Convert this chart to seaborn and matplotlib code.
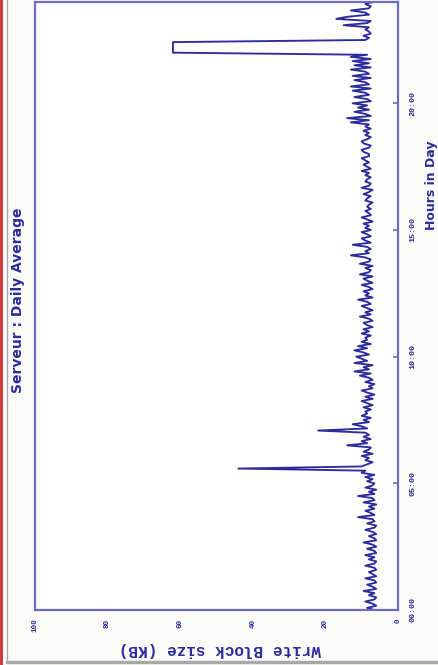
import matplotlib
matplotlib.use('Agg')
import matplotlib.pyplot as plt
import seaborn as sns
import pandas as pd
from matplotlib.lines import Line2D

# write block size (KB), one reading every 5 minutes from 00:00 to 24:00
kb = [
    6.5, 8.5, 6, 7, 9, 6.5, 6, 8, 6.5, 9.5, 6, 7,              # 00h
    8.5, 6, 6.5, 9, 6, 7, 8, 6, 6.5, 9, 6.5, 6,                # 01h
    8, 6.5, 9, 6, 6.5, 8.5, 6, 7, 9.5, 6, 6.5, 8,              # 02h
    6, 7, 9, 6.5, 6, 8.5, 6.5, 7, 11, 6.5, 7.5, 9,             # 03h
    6.5, 8, 6, 9.5, 6.5, 7, 11, 6.5, 8, 6, 9, 7,               # 04h
    6.5, 8.5, 7, 9, 6.5, 10, 9, 44, 10, 8.5, 7, 9,             # 05h
    8, 10, 7, 9.5, 8, 7.5, 14, 8.5, 10, 7.5, 9.5, 8,           # 06h
    9, 22, 8.5, 10, 12.5, 8, 9.5, 7.5, 10, 8.5, 9, 7.5,        # 07h
    9.5, 7, 8.5, 10, 7, 9, 6.5, 8.5, 10, 7, 8, 6.5,            # 08h
    9, 7, 8, 10.5, 7.5, 12, 8, 9.5, 7, 12, 8.5, 10,            # 09h
    11.5, 8, 9.5, 12, 8.5, 11, 7.5, 10, 8.5, 9, 7.5, 10,       # 10h
    8, 9.5, 7, 8.5, 9.5, 7, 8, 10.5, 7.5, 9, 7, 8.5,           # 11h
    10, 7.5, 8.5, 11, 7, 9, 8, 9.5, 7, 8, 10, 7,               # 12h
    8.5, 9.5, 7, 10.5, 8, 7.5, 9, 7, 10.5, 8, 7.5, 9,          # 13h
    13, 8, 9, 7.5, 8.5, 12.5, 7.5, 9, 10, 7.5, 8.5, 10,        # 14h
    7.5, 9, 8, 9.5, 7, 8.5, 10, 7.5, 8, 9, 7.5, 8.5,           # 15h
    8, 7, 9, 8.5, 7.5, 9.5, 8, 7, 10, 8, 7.5, 9,               # 16h
    8.5, 7.5, 9, 8, 10, 7.5, 8.5, 9.5, 8, 9, 10, 8,            # 17h
    8, 9.5, 10, 8, 7.5, 9.5, 10, 8.5, 7.5, 9, 8, 9.5,          # 18h
    7.5, 9, 8, 13, 8, 14, 7.5, 9, 12, 8, 11, 8.5,              # 19h
    12.5, 7.5, 8.5, 12, 8, 9, 12.5, 7.5, 13, 8, 9, 12,         # 20h
    7.5, 12.5, 8, 9, 13, 7.5, 12, 8, 12.5, 7.5, 13, 8.5,       # 21h
    62, 62, 62, 62, 62, 62, 9, 8, 9.5, 7.5, 8, 9,              # 22h
    8, 15, 8.5, 7.5, 17, 14, 8, 9, 13, 8, 7.5, 9,              # 23h
    7,                                                         # 24h
]
hours = [i / 12 for i in range(len(kb))]

hour_ticks = [0, 5, 10, 15, 20]
hour_labels = ['00:00', '05:00', '10:00', '15:00', '20:00']
kb_ticks = [0, 20, 40, 60, 80, 100]
kb_labels = ['0', '20', '40', '60', '80', '100']

ink = '#2c2c9c'
frame = '#6c6cc8'

sns.set_style('white')
plt.rcParams['font.family'] = ['DejaVu Sans']

fig = plt.figure(figsize=(4.39, 6.65), dpi=100, facecolor='#fcfcfa')
ax = fig.add_axes([35 / 439, 1 - 610 / 665, 363 / 439, 608 / 665])
ax.set_facecolor('white')

df = pd.DataFrame({'hour': hours, 'kb': kb})
sns.lineplot(data=df, x='kb', y='hour', orient='y', sort=False, estimator=None,
             color=ink, linewidth=1.35, ax=ax)

# the chart is turned a quarter turn: hours run upward, KB runs leftward
ax.set_xlim(100, 0)
ax.set_ylim(0, 24)
ax.set_xticks(kb_ticks)
ax.set_xticklabels(kb_labels, rotation=90, family='Liberation Mono',
                   fontweight='bold', fontsize=5.5, color=ink)
ax.set_yticks(hour_ticks)
ax.set_yticklabels(hour_labels, rotation=90, va='center', family='Liberation Mono',
                   fontweight='bold', fontsize=6, color=ink)
ax.yaxis.tick_right()
ax.tick_params(axis='x', direction='in', length=5, width=1.2, color=frame, pad=6)
ax.tick_params(axis='y', direction='in', length=3.5, width=1.2, color=frame, pad=8)
ax.set_xlabel('')
ax.set_ylabel('')
for s in ax.spines.values():
    s.set_color(frame)
    s.set_linewidth(1.6)

fig.text(18 / 439, 1 - 300 / 665, 'Serveur : Daily Average', rotation=90,
         ha='center', va='center', fontsize=10, fontweight='bold', color=ink)
fig.text(432 / 439, 1 - 185 / 665, 'Hours in Day', rotation=90,
         ha='center', va='center', fontsize=9, fontweight='bold', color=ink)
fig.text(220 / 439, 1 - 649 / 665, 'Write Block size (KB)', rotation=180,
         ha='center', va='center', fontsize=11.5, fontweight='bold',
         family='Liberation Mono', color=ink)

# window frame around the screenshot
fig.add_artist(Line2D([1.5 / 439, 1.5 / 439], [0, 1], color='#c83030', lw=2))
fig.add_artist(Line2D([7 / 439, 7 / 439], [3 / 665, 1], color='#a8a8a8', lw=1))
fig.add_artist(Line2D([7 / 439, 1], [3 / 665, 3 / 665], color='#a8a8a8', lw=2.5))

fig.savefig('out.png', dpi=100, facecolor=fig.get_facecolor())
